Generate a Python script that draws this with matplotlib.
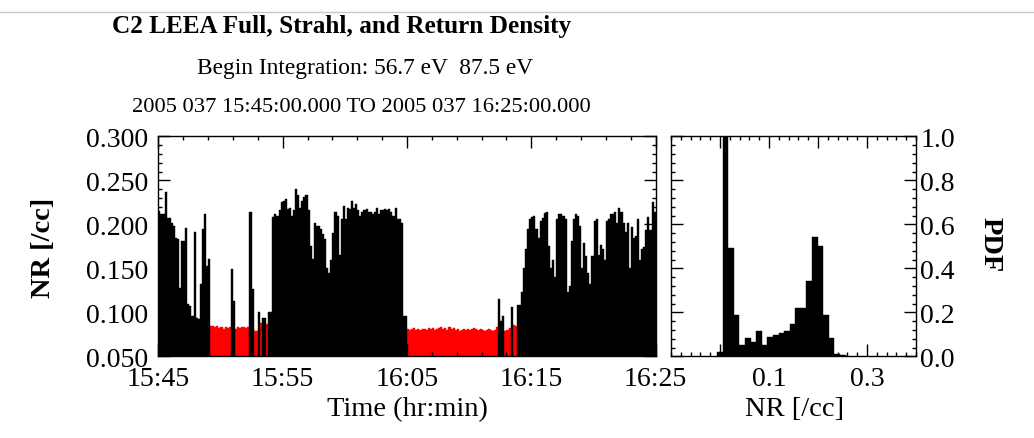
import numpy as np
import matplotlib
matplotlib.use('Agg')
import matplotlib.pyplot as plt
import matplotlib.dates as mdates
from matplotlib.ticker import MultipleLocator, FixedLocator, FixedFormatter, FormatStrFormatter
from matplotlib.lines import Line2D
from datetime import datetime, timedelta

nan = float('nan')

# Full density, one sample every 10 s from 15:45:00 (nan = no sample above 0.05)
full_density = [
    0.215, 0.212, 0.212, 0.237, 0.207, 0.207, 0.202, 0.198, 0.185, 0.183,
    0.128, 0.181, 0.181, 0.196, 0.109, 0.107, 0.096, 0.191, 0.094, 0.092,
    0.132, 0.195, 0.212, 0.153, 0.161, nan, nan, nan, nan, nan,
    nan, nan, nan, nan, nan, 0.149, 0.113, nan, nan, nan,
    nan, nan, nan, nan, 0.214, 0.126, nan, nan, 0.100, nan,
    0.094, 0.094, nan, 0.100, 0.100, 0.208, 0.212, 0.210, 0.216, 0.225,
    0.227, 0.229, 0.217, 0.219, 0.210, 0.216, 0.240, 0.233, 0.219, 0.227,
    0.231, 0.233, 0.216, 0.175, 0.161, 0.202, 0.198, 0.198, 0.195, 0.189,
    0.183, 0.150, 0.145, 0.159, 0.190, 0.214, 0.210, 0.165, 0.206, 0.221,
    0.206, 0.219, 0.217, 0.226, 0.219, 0.223, 0.216, 0.210, 0.214, 0.216,
    0.217, 0.214, 0.214, 0.212, 0.214, 0.219, 0.212, 0.216, 0.216, 0.217,
    0.216, 0.217, 0.214, 0.210, 0.219, 0.206, 0.206, 0.202, 0.096, 0.096,
] + [nan] * 44 + [
    0.115, 0.090, 0.096, nan, nan, nan, 0.106, nan, nan,
    0.108, 0.108, 0.123, 0.150, 0.172, 0.195, 0.206,
    0.208, 0.210, 0.195, 0.185, 0.204, 0.207, 0.213, 0.214, 0.175, 0.150,
    0.159, 0.140, 0.206, 0.212, 0.212, 0.210, 0.206, 0.123, 0.130, 0.181,
    0.206, 0.212, 0.210, 0.198, 0.150, 0.179, 0.164, 0.145, 0.132, 0.164,
    0.204, 0.206, 0.165, 0.176, 0.172, 0.159, 0.204, 0.206, 0.212, 0.212,
    0.214, 0.202, 0.218, 0.214, 0.202, 0.191, 0.202, 0.150, 0.197, 0.185,
    0.187, 0.206, 0.160, 0.172, 0.174, 0.193, 0.208, 0.193, 0.225, 0.214,
]

# Return density (red), same cadence
return_seg1 = [
    0.082, 0.082, 0.083, 0.082, 0.082, 0.081, 0.082, 0.083, 0.082, 0.082,
    0.083, 0.085, 0.084, 0.083, 0.084, 0.082, 0.083, 0.081, 0.083, 0.082,
    0.083, 0.082, 0.082, 0.081, 0.083, 0.082, 0.083, 0.083, 0.082, 0.083,
    0.082, 0.081, 0.079, 0.079, 0.080, 0.088, 0.087, 0.087, 0.087, 0.082,
]
return_seg2 = [
    0.081, 0.080, 0.081, 0.082, 0.080, 0.081, 0.080, 0.081, 0.081, 0.080,
    0.082, 0.081, 0.082, 0.080, 0.081, 0.082, 0.083, 0.081, 0.082, 0.080,
    0.083, 0.081, 0.082, 0.080, 0.081, 0.079, 0.080, 0.081, 0.080, 0.081,
    0.080, 0.081, 0.082, 0.081, 0.080, 0.081, 0.080, 0.079, 0.080, 0.081,
    0.080, 0.079, 0.080, 0.083, 0.082, 0.080, 0.080, 0.079, 0.080, 0.082,
    0.079, 0.086, 0.084,
]
return_density = [nan] * 14 + return_seg1 + [nan] * 66 + return_seg2 + [nan] * 67

# PDF histogram of NR
pdf_values = [0.020, 1.000, 0.493, 0.186, 0.050, 0.083, 0.065, 0.113, 0.050, 0.089,
              0.095, 0.106, 0.116, 0.146, 0.219, 0.219, 0.344, 0.543, 0.502, 0.186,
              0.083, 0.010, 0.006]
bin_start = -0.006
bin_width = 0.0114

t0 = datetime(2005, 2, 6, 15, 45, 0)
t1 = datetime(2005, 2, 6, 16, 25, 0)
dt = 10  # seconds
times = [t0 + timedelta(seconds=dt * i) for i in range(len(full_density))]
bar_w = dt / 86400.0

plt.rcParams['font.family'] = ['Liberation Serif', 'DejaVu Serif']

W, H = 1034, 439
fig = plt.figure(figsize=(W / 100, H / 100), dpi=100, facecolor='white')

def box(x0, x1, ytop, ybot):
    return [x0 / W, 1 - ybot / H, (x1 - x0) / W, (ybot - ytop) / H]

ax = fig.add_axes(box(158.3, 655.7, 137.3, 357.3))
ax2 = fig.add_axes(box(671, 916, 137.3, 357.3))

# time series
ax.bar(times, return_density, width=bar_w, align='edge', color='#ff0000',
       edgecolor='#ff0000', linewidth=0.3)
ax.bar(times, full_density, width=bar_w, align='edge', color='black',
       edgecolor='black', linewidth=0.3)
ax.set_xlim(t0, t1)
ax.set_ylim(0.05, 0.30)
ax.xaxis.set_major_locator(mdates.MinuteLocator(byminute=[5, 15, 25, 35, 45, 55]))
ax.xaxis.set_minor_locator(mdates.MinuteLocator(interval=2))
ax.xaxis.set_major_formatter(mdates.DateFormatter('%H:%M'))
ax.yaxis.set_major_locator(MultipleLocator(0.05))
ax.yaxis.set_minor_locator(MultipleLocator(0.01))
ax.yaxis.set_major_formatter(FormatStrFormatter('%.3f'))

# histogram
edges = bin_start + bin_width * np.arange(len(pdf_values))
ax2.bar(edges, pdf_values, width=bin_width, align='edge', color='black',
        edgecolor='black', linewidth=0.3)
ax2.set_xlim(-0.1, 0.4)
ax2.set_ylim(0.0, 1.0)
ax2.xaxis.set_major_locator(FixedLocator([0.0, 0.1, 0.2, 0.3]))
ax2.xaxis.set_major_formatter(FixedFormatter(['', '0.1', '', '0.3']))
ax2.xaxis.set_minor_locator(MultipleLocator(0.02))
ax2.yaxis.set_major_locator(MultipleLocator(0.2))
ax2.yaxis.set_minor_locator(MultipleLocator(0.04))
ax2.yaxis.set_major_formatter(FormatStrFormatter('%.1f'))

for a in (ax, ax2):
    a.tick_params(which='both', direction='in', top=True, right=True, bottom=True, left=True,
                  labelsize=20, width=1, color='black')
    a.tick_params(which='major', length=8.5)
    a.tick_params(which='minor', length=3)
    a.tick_params(axis='x', pad=7)
    for s in a.spines.values():
        s.set_linewidth(1)
        s.set_zorder(5)
ax.tick_params(axis='y', pad=7)
ax2.tick_params(axis='y', labelleft=False, labelright=True, pad=3)

# labels
fig.text(43.5 / W, 1 - 248 / H, 'NR [/cc]', rotation=90, ha='center', va='center',
         fontsize=20.5, fontweight='bold')
fig.text(990 / W, 1 - 245 / H, 'PDF', rotation=-90, ha='center', va='center',
         fontsize=20.5, fontweight='bold')
fig.text(407 / W, 1 - 410 / H, 'Time (hr:min)', ha='center', va='center', fontsize=20.5)
fig.text(795 / W, 1 - 410 / H, 'NR [/cc]', ha='center', va='center', fontsize=20.5)

fig.text(111.7 / W, 1 - 33.5 / H, 'C2 LEEA Full, Strahl, and Return Density',
         ha='left', va='baseline', fontsize=18.2, fontweight='bold')
fig.text(196.7 / W, 1 - 74 / H, 'Begin Integration: 56.7 eV  87.5 eV',
         ha='left', va='baseline', fontsize=16.8)
fig.text(131.7 / W, 1 - 112 / H, '2005 037 15:45:00.000 TO 2005 037 16:25:00.000',
         ha='left', va='baseline', fontsize=16.2)

fig.add_artist(Line2D([0, 1], [1 - 12.5 / H, 1 - 12.5 / H], transform=fig.transFigure,
                      color='#c8c8c8', linewidth=1))

fig.savefig('out.png', dpi=100, facecolor='white')
